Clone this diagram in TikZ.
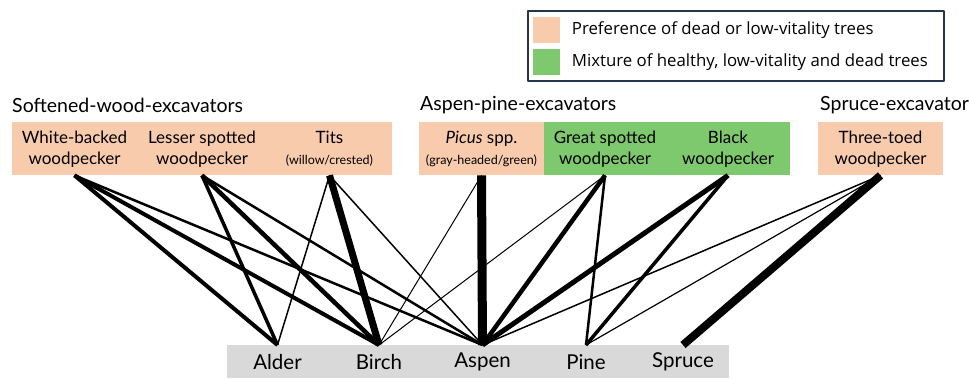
\documentclass[tikz,border=0pt]{standalone}
\usepackage{fontspec}
\setmainfont{Lato}
\newfontfamily\legendfont{Open Sans}
\usetikzlibrary{positioning}
\definecolor{deadpink}{RGB}{248,203,173}
\definecolor{mixgreen}{RGB}{126,200,110}
\definecolor{treegray}{RGB}{217,217,217}
\definecolor{legendblue}{RGB}{38,52,74}
\tikzset{every path/.style={line join=round},
    species/.style={minimum height=53pt, inner sep=0pt, align=center, anchor=north, font=\fontsize{17}{21}\selectfont},
    dead/.style={species, fill=deadpink},
    mixed/.style={species, fill=mixgreen},
    tree/.style={fill=treegray, minimum height=33pt, inner sep=0pt, anchor=north, font=\fontsize{20.5}{24}\selectfont},
    group/.style={anchor=west, inner sep=0pt, font=\fontsize{19.5}{23}\selectfont},
    swatch/.style={minimum width=27pt, minimum height=26pt, inner sep=0pt, anchor=north west},
    legendtext/.style={font=\legendfont\fontsize{16.8}{20}\selectfont},
    link/.style={line cap=butt}}
\newcommand{\smalltext}[1]{{\fontsize{12.5}{15}\selectfont #1}}

\begin{document}
\begin{tikzpicture}[x=1pt, y=-1pt]
    \useasboundingbox (0,0) rectangle (969,378);

    % legend
    \node [
        draw=legendblue,
        line width=1.5pt,
        minimum width=416pt,
        minimum height=70pt,
        anchor=north west
    ] (legend) at (527,10) {};
    \node [swatch, fill=deadpink] (swdead) at (533,17) {};
    \node [swatch, fill=mixgreen] (swmixed) at (533,49) {};
    \node [right=8pt of swdead, legendtext] (txtdead) {Preference of dead or low-vitality trees};
    \node [right=8pt of swmixed, legendtext] (txtmixed) {Mixture of healthy, low-vitality and dead trees};

    % excavator groups
    \node [group] (softened) at (12,105) {Softened-wood-excavators};
    \node [group] (aspenpine) at (420,105) {Aspen-pine-excavators};
    \node [group] (spruceex) at (820,105) {Spruce-excavator};

    \node [dead, minimum width=125pt] (wb) at (74.5,122) {White-backed\\woodpecker};
    \node [dead, minimum width=130pt] (ls) at (202,122) {Lesser spotted\\woodpecker};
    \node [dead, minimum width=125pt] (tits) at (329.5,122) {Tits\\\smalltext{(willow/crested)}};
    \node [dead, minimum width=125pt] (picus) at (481.5,122) {\textit{Picus} spp.\\\smalltext{(gray-headed/green)}};
    \node [mixed, minimum width=122pt] (great) at (605,122) {Great spotted\\woodpecker};
    \node [mixed, minimum width=124pt] (black) at (728,122) {Black\\woodpecker};
    \node [dead, minimum width=125pt] (three) at (880.5,122) {Three-toed\\woodpecker};

    % trees
    \node [tree, minimum width=101pt] (alder) at (277.5,345) {Alder};
    \node [tree, minimum width=102pt] (birch) at (379,345) {Birch};
    \node [tree, minimum width=105pt] (aspen) at (482.5,345) {Aspen};
    \node [tree, minimum width=102pt] (pine) at (586,345) {Pine};
    \node [tree, minimum width=92pt] (spruce) at (683,345) {Spruce};

    % links, width = strength of preference
    \foreach \bird/\tree/\w in {wb/alder/4, wb/birch/4, wb/aspen/2.5,
        ls/alder/3.5, ls/birch/4.5, ls/aspen/2.5,
        tits/alder/1.5, tits/birch/7, tits/aspen/1.5,
        picus/birch/1, picus/aspen/9,
        great/birch/1, great/aspen/4.5, great/pine/2.5,
        black/aspen/5, black/pine/3.5,
        three/aspen/1.5, three/pine/1.2, three/spruce/8}
        \draw [link, line width=\w pt] (\bird.south) -- (\tree.north);
\end{tikzpicture}
\end{document}
